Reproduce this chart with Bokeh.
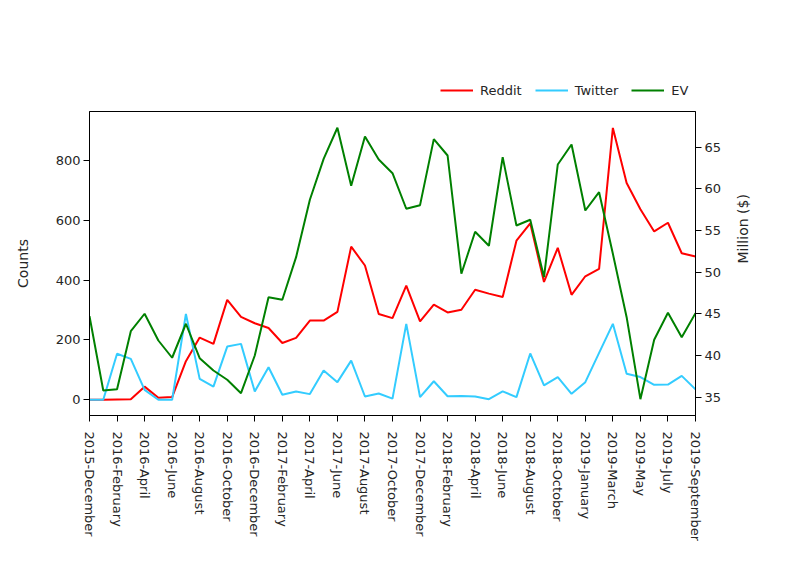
import math
from bokeh.plotting import figure
from bokeh.layouts import column
from bokeh.models import (Range1d, LinearAxis, FixedTicker, Legend, LegendItem,
                          ColumnDataSource)
from bokeh.embed import file_html
from bokeh.resources import INLINE

months = [
    "2015-December",
    "2016-January", "2016-February", "2016-March", "2016-April", "2016-May", "2016-June",
    "2016-July", "2016-August", "2016-September", "2016-October", "2016-November", "2016-December",
    "2017-January", "2017-February", "2017-March", "2017-April", "2017-May", "2017-June",
    "2017-July", "2017-August", "2017-September", "2017-October", "2017-November", "2017-December",
    "2018-January", "2018-February", "2018-March", "2018-April", "2018-May", "2018-June",
    "2018-July", "2018-August", "2018-September", "2018-October", "2018-November",
    "2019-January", "2019-February", "2019-March", "2019-April", "2019-May", "2019-June",
    "2019-July", "2019-August", "2019-September",
]
reddit = [0, 0, 1, 2, 44, 7, 9, 129, 208, 187, 334, 277, 256, 240, 190, 207, 265, 265,
          294, 512, 449, 287, 273, 382, 262, 318, 292, 301, 368, 355, 344, 532, 590,
          394, 508, 351, 413, 438, 909, 725, 637, 563, 592, 490, 479]
twitter = [0, 0, 154, 137, 33, 0, 0, 287, 70, 44, 178, 187, 28, 109, 17, 28, 19, 98,
           59, 131, 11, 21, 4, 254, 9, 62, 12, 13, 11, 2, 28, 9, 155, 48, 76, 20, 59,
           157, 254, 87, 76, 50, 51, 80, 35]
ev = [44.72, 35.80, 35.96, 42.92, 45.01, 41.80, 39.73, 43.81, 39.68, 38.20, 37.09,
      35.48, 40.0, 47.0, 46.69, 51.8, 58.69, 63.6, 67.33, 60.37, 66.28, 63.52, 61.88,
      57.61, 58.04, 65.96, 64.0, 49.81, 54.85, 53.17, 63.8, 55.6, 56.29, 49.4, 62.92,
      65.32, 57.4, 59.6, 52.2, 44.6, 34.76, 41.89, 45.13, 42.2, 45.08]
series_names = ["Reddit", "Twitter", "EV"]
series_cols = ["reddit", "twitter", "ev"]
series_colors = ["#ff0000", "#33ccff", "#008000"]
count_ticks = [0, 200, 400, 600, 800]
ev_ticks = [35, 40, 45, 50, 55, 60, 65]

idx = list(range(len(months)))
src = ColumnDataSource(dict(x=idx, reddit=reddit, twitter=twitter, ev=ev))

FONT = "DejaVu Sans"
TXT = "#262626"

# ---- main chart ----
p = figure(frame_width=606, frame_height=304, output_backend="svg", toolbar_location=None,
           x_range=Range1d(0, len(months) - 1), y_range=Range1d(-52.5, 963.9),
           min_border_left=89, min_border_right=78, min_border_top=11,
           min_border_bottom=134)
p.extra_y_ranges = {"ev": Range1d(32.8, 69.28)}
p.xgrid.visible = False
p.ygrid.visible = False
p.outline_line_color = "black"
p.outline_line_width = 1
p.background_fill_color = "white"
p.border_fill_color = "white"

p.line("x", "reddit", source=src, line_color=series_colors[0], line_width=2)
p.line("x", "twitter", source=src, line_color=series_colors[1], line_width=2)
p.line("x", "ev", source=src, line_color=series_colors[2], line_width=2, y_range_name="ev")

ax_r = LinearAxis(y_range_name="ev", axis_label="Million ($)")
p.add_layout(ax_r, "right")

xa = p.xaxis[0]
xa.ticker = FixedTicker(ticks=idx[::2])
xa.major_label_overrides = {i: months[i] for i in idx[::2]}
xa.major_label_orientation = -math.pi / 2
xa.major_label_standoff = 10

ya = p.yaxis[0]
ya.ticker = FixedTicker(ticks=count_ticks)
ya.axis_label = "Counts"
ya.axis_label_standoff = 22
ya.major_label_standoff = 3

ax_r.ticker = FixedTicker(ticks=ev_ticks)
ax_r.axis_label_standoff = 19
ax_r.major_label_standoff = 3
try:
    ax_r.axis_label_orientation = math.pi / 2
except Exception:
    pass

for a in [xa, ya, ax_r]:
    a.axis_line_color = "black"
    a.axis_line_width = 1
    a.major_tick_out = 6
    a.major_tick_in = 0
    a.major_tick_line_color = "black"
    a.minor_tick_line_color = None
    a.major_label_text_font = FONT
    a.major_label_text_font_size = "13px"
    a.major_label_text_color = TXT
    a.axis_label_text_font = FONT
    a.axis_label_text_font_size = "14px"
    a.axis_label_text_font_style = "normal"
    a.axis_label_text_color = TXT

# ---- legend strip above the chart (its lines lie outside its own view) ----
lg = figure(frame_width=606, frame_height=100, output_backend="svg", toolbar_location=None,
            min_border_left=89, min_border_right=78, min_border_top=0, min_border_bottom=0,
            x_axis_type=None, y_axis_type=None,
            x_range=Range1d(-3, -2), y_range=Range1d(-3, -2))
lg.outline_line_color = None
lg.xgrid.visible = False
lg.ygrid.visible = False
lg.border_fill_color = "white"
items = []
for name, colname, col in zip(series_names, series_cols, series_colors):
    r = lg.line("x", colname, source=src, line_color=col, line_width=2)
    items.append(LegendItem(label=name, renderers=[r]))
legend = Legend(items=items, orientation="horizontal", location=(351, 2),
                glyph_width=33, glyph_height=16, label_standoff=7, spacing=13,
                padding=0, margin=0, background_fill_alpha=0, border_line_alpha=0,
                label_text_font=FONT, label_text_font_size="13px",
                label_text_color=TXT)
lg.add_layout(legend, "center")

layout = column(lg, p, spacing=0)
open("out.html", "w").write(file_html(layout, INLINE))
